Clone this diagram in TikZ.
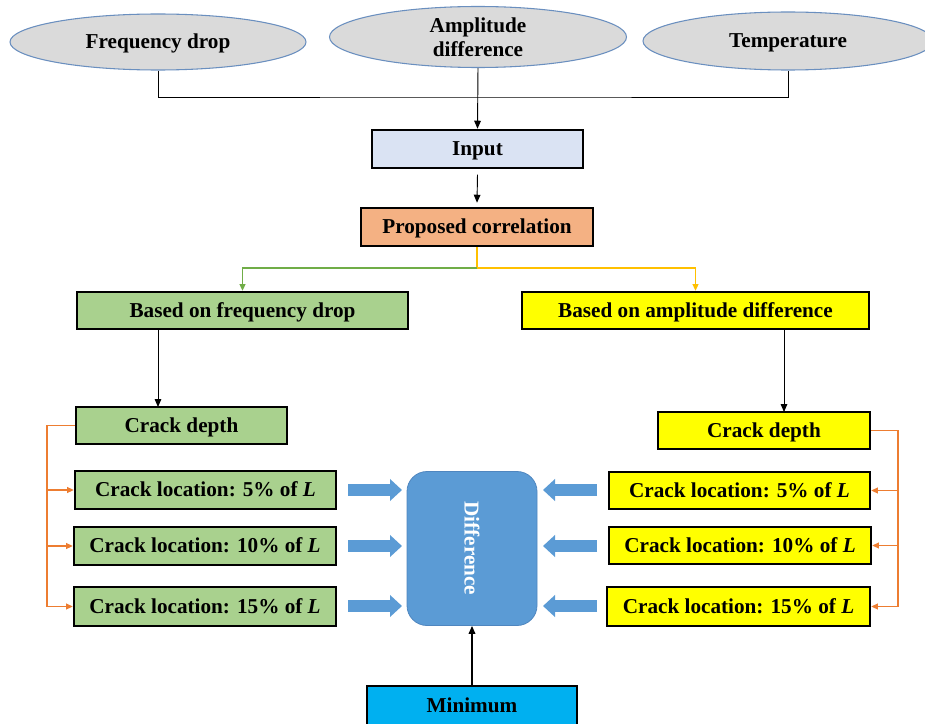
\documentclass[tikz,border=0pt]{standalone}
\usepackage{fontspec}
\setmainfont{Liberation Serif}
\usetikzlibrary{shapes.geometric,arrows.meta}
\definecolor{ellfill}{HTML}{DADADA}
\definecolor{elldraw}{HTML}{6A8FBF}
\definecolor{inputfill}{HTML}{DAE3F3}
\definecolor{propfill}{HTML}{F4B183}
\definecolor{greenfill}{HTML}{A9D18E}
\definecolor{yellowfill}{HTML}{FFFF00}
\definecolor{difffill}{HTML}{5B9BD5}
\definecolor{diffdraw}{HTML}{4F86BF}
\definecolor{minfill}{HTML}{00B0F0}
\definecolor{orangeln}{HTML}{ED7D31}
\definecolor{greenln}{HTML}{70AD47}
\definecolor{yellowln}{HTML}{FFC000}
\begin{document}
\begin{tikzpicture}[x=0.75pt,y=-0.75pt,
  txt/.style={font=\fontsize{15.9}{18}\selectfont\bfseries},
  ctr/.style={text height=10.5pt, text depth=0.7pt},
  wh/.style 2 args={minimum width=#1*0.75pt, minimum height=#2*0.75pt},
  ell/.style={ellipse, draw=elldraw, line width=0.8pt, fill=ellfill, inner sep=0pt, txt, align=center},
  box/.style={rectangle, draw=black, line width=1.9pt, inner sep=0pt, txt, ctr},
  conn/.style={draw=black, line width=0.7pt},
  tip/.style={-{Triangle[length=6pt,width=5pt]}},
  otip/.style={-{Triangle[length=5pt,width=4.5pt]}},
  oline/.style={orangeln, line width=0.8pt},
  fat/.style={draw=difffill, line width=8.5pt, -{Triangle[length=9pt,width=16pt]}}
]
\useasboundingbox (0,0) rectangle (925,724);
\clip (0,0) rectangle (925,724);

% ellipses
\node[ell, ctr, wh={296}{56}] (fd) at (158,42) {Frequency drop};
\node[ell, wh={297}{61}] (ad) at (478,37) {Amplitude\\difference};
\node[ell, ctr, wh={290}{58}] (te) at (788,41) {Temperature};

% boxes
\node[box, fill=inputfill, wh={211}{38}] (in) at (477.5,149) {Input};
\node[box, fill=propfill, wh={232}{38}] (pc) at (477,227) {Proposed correlation};
\node[box, fill=greenfill, wh={331}{37}] (bf) at (242.5,310.5) {Based on frequency drop};
\node[box, fill=yellowfill, wh={347}{37}] (ba) at (695.5,310.5) {Based on amplitude difference};

\node[box, fill=greenfill, wh={211}{37}] (lcd) at (181.5,425.5) {Crack depth};
\node[box, fill=greenfill, wh={261}{38}] (l5) at (205.5,490) {Crack location: 5\% of \textit{L}};
\node[box, fill=greenfill, wh={262}{38}] (l10) at (205,546) {Crack location: 10\% of \textit{L}};
\node[box, fill=greenfill, wh={262}{39}] (l15) at (205,606.5) {Crack location: 15\% of \textit{L}};

\node[box, fill=yellowfill, wh={212}{37}] (rcd) at (764,430.5) {Crack depth};
\node[box, fill=yellowfill, wh={261}{37}] (r5) at (739.5,490.5) {Crack location: 5\% of \textit{L}};
\node[box, fill=yellowfill, wh={262}{37}] (r10) at (740,545.5) {Crack location: 10\% of \textit{L}};
\node[box, fill=yellowfill, wh={263}{39}] (r15) at (738.5,606.5) {Crack location: 15\% of \textit{L}};

\node[rectangle, rounded corners=15pt, draw=diffdraw, line width=0.6pt, fill=difffill, wh={130}{154}] (df) at (472,548.5) {};
\node[txt, text=white, rotate=-90] (dft) at (df.center) {Difference};

\node[box, fill=minfill, wh={210}{40}] (mn) at (472,706) {Minimum};

% top connectors
\coordinate (j1) at (478,97);
\draw[conn] (fd.south) |- (j1) -| (te.south);
\draw[conn, tip] (ad.south) -- (in.north);
\draw[conn, tip] ([yshift=-4]in.south) -- ([yshift=3]pc.north);

% split
\coordinate (sp) at (477,268);
\draw[yellowln, line width=0.9pt, otip] (pc.south) -- (sp) -| (ba.north);
\draw[greenln, line width=0.9pt, otip] (sp) -| (bf.north);

% down to crack depth
\coordinate (bfd) at (158,329);
\coordinate (lcdt) at (158,407);
\coordinate (bad) at (784,329);
\coordinate (rcdt) at (784,412);
\draw[conn, tip] (bfd) -- (lcdt);
\draw[conn, tip] (bad) -- (rcdt);

% orange left
\coordinate (lo) at (47,425.5);
\coordinate (lb) at (47,606.5);
\draw[oline] (lcd.west) -- (lo) -- (lb);
\draw[oline, otip] (lo |- l5.west) -- (l5.west);
\draw[oline, otip] (lo |- l10.west) -- (l10.west);
\draw[oline, otip] (lb) -- (l15.west);
% orange right
\coordinate (ro) at (898,430.5);
\coordinate (rb) at (898,606.5);
\draw[oline] (rcd.east) -- (ro) -- (rb);
\draw[oline, otip] (ro |- r5.east) -- (r5.east);
\draw[oline, otip] (ro |- r10.east) -- (r10.east);
\draw[oline, otip] (rb) -- (r15.east);

% fat arrows
\foreach \y in {490,546,606}{
  \draw[fat] (348,\y) -- (402,\y);
  \draw[fat] (597,\y) -- (543,\y);
}

\draw[conn, line width=1pt, tip] (mn.north) -- (df.south);
\end{tikzpicture}
\end{document}
